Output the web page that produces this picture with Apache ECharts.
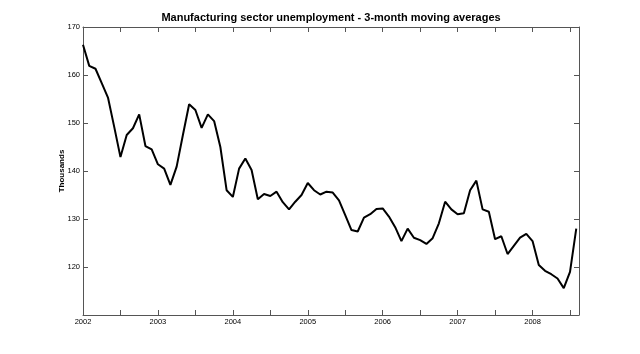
<!DOCTYPE html>
<html>
<head>
<meta charset="utf-8">
<script src="https://cdn.jsdelivr.net/npm/echarts@6/dist/echarts.min.js"></script>
<style>
  html, body { margin: 0; padding: 0; background: #fff; }
  #main { width: 640px; height: 354px; }
</style>
</head>
<body>
<div id="main"></div>
<script>
// monthly points, Jan 2002 .. Aug 2008
var startYear = 2002;
var values = [
    166.3, 161.9, 161.3, 158.3, 155.3, 149.2, 142.9, 147.5, 148.9, 151.8, 145.2, 144.5,
    141.4, 140.5, 137.1, 140.9, 147.5, 153.9, 152.7, 149.0, 151.8, 150.4, 145.0, 136.0,
    134.6, 140.5, 142.6, 140.2, 134.1, 135.2, 134.8, 135.7, 133.5, 132.0, 133.6, 135.0,
    137.5, 136.0, 135.1, 135.7, 135.5, 133.9, 130.8, 127.7, 127.4, 130.3, 131.0, 132.1,
    132.2, 130.5, 128.3, 125.4, 128.0, 126.1, 125.6, 124.8, 126.0, 129.1, 133.6, 132.0,
    131.0, 131.2, 136.0, 138.0, 132.0, 131.5, 125.8, 126.4, 122.7, 124.4, 126.1, 126.9,
    125.4, 120.4, 119.2, 118.5, 117.6, 115.6, 119.0, 128.0
];
var yearTicks = [2002, 2003, 2004, 2005, 2006, 2007, 2008];

var points = values.map(function (v, i) {
    return [startYear + i / 12, v];
});

var axisCol = '#555';
var chart = echarts.init(document.getElementById('main'));
chart.setOption({
    animation: false,
    backgroundColor: '#fff',
    title: {
        text: 'Manufacturing sector unemployment - 3-month moving averages',
        left: 326, top: 7, textAlign: 'center',
        textStyle: { fontFamily: 'Liberation Sans', fontSize: 11, fontWeight: 'bold', color: '#000' }
    },
    grid: { left: 83, right: 61, top: 27, bottom: 39 },
    xAxis: [{
        type: 'value', min: 2002, max: 2008.62, interval: 0.5,
        axisLine: { lineStyle: { color: axisCol, width: 1 } },
        axisTick: { inside: true, length: 5, lineStyle: { color: axisCol } },
        splitLine: { show: false },
        axisLabel: {
            fontFamily: 'Liberation Sans', fontSize: 7.5, color: '#000', margin: 3,
            showMaxLabel: false,
            formatter: function (v) { return yearTicks.indexOf(v) >= 0 ? String(v) : ''; }
        }
    }, {
        type: 'value', position: 'top', min: 2002, max: 2008.62, interval: 0.5,
        axisLine: { show: true, lineStyle: { color: axisCol, width: 1 } },
        axisTick: { inside: true, length: 5, lineStyle: { color: axisCol } },
        axisLabel: { show: false }, splitLine: { show: false }
    }],
    yAxis: [{
        type: 'value', min: 110, max: 170, interval: 10,
        name: 'Thousands', nameLocation: 'middle', nameRotate: 90, nameGap: 17,
        nameMoveOverlap: false,
        nameTextStyle: { fontFamily: 'Liberation Sans', fontSize: 8, fontWeight: 'bold', color: '#000' },
        axisLine: { show: true, lineStyle: { color: axisCol, width: 1 } },
        axisTick: { inside: true, length: 5, lineStyle: { color: axisCol } },
        splitLine: { show: false },
        axisLabel: {
            fontFamily: 'Liberation Sans', fontSize: 7.5, color: '#000', margin: 3,
            showMinLabel: false
        }
    }, {
        type: 'value', position: 'right', min: 110, max: 170, interval: 10,
        axisLine: { show: true, lineStyle: { color: axisCol, width: 1 } },
        axisTick: { inside: true, length: 5, lineStyle: { color: axisCol } },
        axisLabel: { show: false }, splitLine: { show: false }
    }],
    series: [{
        type: 'line',
        data: points,
        showSymbol: false,
        lineStyle: { color: '#000', width: 2 }
    }]
});
</script>
</body>
</html>
